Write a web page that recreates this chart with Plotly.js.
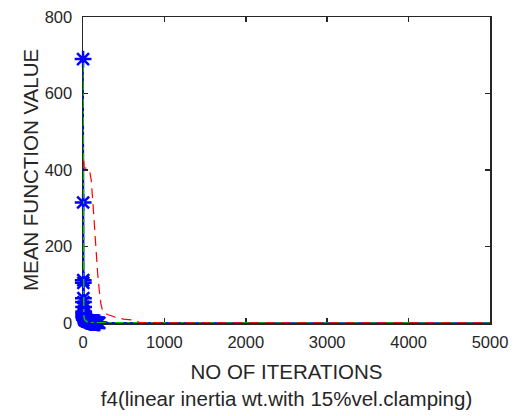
<!DOCTYPE html>
<html>
<head>
<meta charset="utf-8">
<script src="https://cdn.plot.ly/plotly-3.0.1.min.js"></script>
<style>
  html, body { margin: 0; padding: 0; background: #fff; }
  #chart { width: 516px; height: 416px; }
</style>
</head>
<body>
<div id="chart"></div>
<script>
// Convergence of the mean function value (f4, linear inertia weight, 15% velocity clamping)

// Star-marked run: early iterations
const starIter = [1, 2, 3, 4, 5, 6, 7, 8, 9, 10, 11, 12, 13, 14, 15, 16, 17, 18, 19, 20,
                  23, 26, 29, 32, 35, 38, 41, 44, 47, 50, 55, 60, 65, 70, 75, 80, 85, 90, 95, 100,
                  105, 110, 115, 120, 125, 130, 140, 150, 160, 170, 180, 190, 200];
const starVal  = [690, 315, 112, 105, 65, 55, 42, 30, 26, 22, 19, 17, 15, 14, 13, 12, 11, 10, 9.5, 9,
                  8.5, 8, 7.5, 7, 6.5, 6, 5.8, 5.5, 5.2, 5, 4.5, 4, 3.8, 3.5, 3.2, 3, 2.8, 2.5, 2.2, 2,
                  1.9, 1.8, 1.6, 1.5, 1.4, 1.3, 1.1, 1, 0.9, 0.8, 0.7, 0.6, 0.5];

// Same run continued to the last iteration (line only)
const tailIter = [200, 500, 1000, 2000, 3000, 4000, 5000];
const tailVal  = [0.5, 0.3, 0.2, 0.1, 0.1, 0.1, 0.1];

// Dash-dot run
const greenIter = [1, 2, 3, 4, 6, 8, 10, 20, 50, 100, 500, 1000, 2000, 3000, 4000, 5000];
const greenVal  = [680, 300, 110, 70, 45, 30, 20, 8, 3, 1, 0.5, 0.3, 0.2, 0.1, 0.1, 0.1];

// Dashed run
const redIter = [0, 10, 15, 50, 80, 100, 120, 140, 160, 180, 200, 220, 240, 300, 400, 500, 600, 700, 1000, 2000, 5000];
const redVal  = [423, 423, 405, 405, 400, 375, 320, 250, 180, 130, 85, 50, 32, 22, 15, 10, 8, 1, 0.5, 0.3, 0.2];

const xTicks = [0, 1000, 2000, 3000, 4000, 5000];
const yTicks = [0, 200, 400, 600, 800];

const axisColor = '#262626';
const family = 'Liberation Sans, Arial, sans-serif';
const tickFont = { family: family, size: 16.5, color: axisColor };
const titleFont = { family: family, size: 20.5, color: axisColor };

const traces = [
  {
    x: tailIter, y: tailVal, mode: 'lines', type: 'scatter',
    line: { color: '#0000ff', width: 1.5 }, hoverinfo: 'skip'
  },
  {
    x: starIter, y: starVal, mode: 'lines+markers', type: 'scatter', cliponaxis: false,
    line: { color: '#0000ff', width: 1.5 },
    marker: { symbol: 'asterisk-open', size: 14, color: '#0000ff', line: { color: '#0000ff', width: 2.5 } }
  },
  {
    x: greenIter, y: greenVal, mode: 'lines', type: 'scatter',
    line: { color: '#00c000', width: 1.5, dash: 'dashdot' }
  },
  {
    x: redIter, y: redVal, mode: 'lines', type: 'scatter',
    line: { color: '#ff0000', width: 1.2, dash: '10px,6px' }
  }
];

const layout = {
  width: 516, height: 416,
  margin: { l: 83, r: 26, t: 17, b: 93 },
  paper_bgcolor: '#ffffff', plot_bgcolor: '#ffffff',
  showlegend: false,
  font: tickFont,
  xaxis: {
    range: [0, 5000], tickvals: xTicks, ticktext: xTicks.map(String),
    showline: true, linecolor: axisColor, linewidth: 1.5, mirror: 'ticks',
    ticks: 'inside', ticklen: 5, tickcolor: axisColor, tickwidth: 1.5,
    ticklabelstandoff: 4,
    showgrid: false, zeroline: false, layer: 'below traces',
    tickfont: tickFont,
    title: {
      text: 'NO OF ITERATIONS<br>f4(linear inertia wt.with 15%vel.clamping)',
      font: titleFont,
      standoff: 14
    }
  },
  yaxis: {
    range: [0, 800], tickvals: yTicks, ticktext: yTicks.map(String),
    showline: true, linecolor: axisColor, linewidth: 1.5, mirror: 'ticks',
    ticks: 'inside', ticklen: 5, tickcolor: axisColor, tickwidth: 1.5,
    ticklabelstandoff: 6,
    showgrid: false, zeroline: false, layer: 'below traces',
    tickfont: tickFont,
    title: {
      text: 'MEAN FUNCTION VALUE',
      font: titleFont,
      standoff: 0
    }
  }
};

Plotly.newPlot('chart', traces, layout, { staticPlot: true, displayModeBar: false });
</script>
</body>
</html>
